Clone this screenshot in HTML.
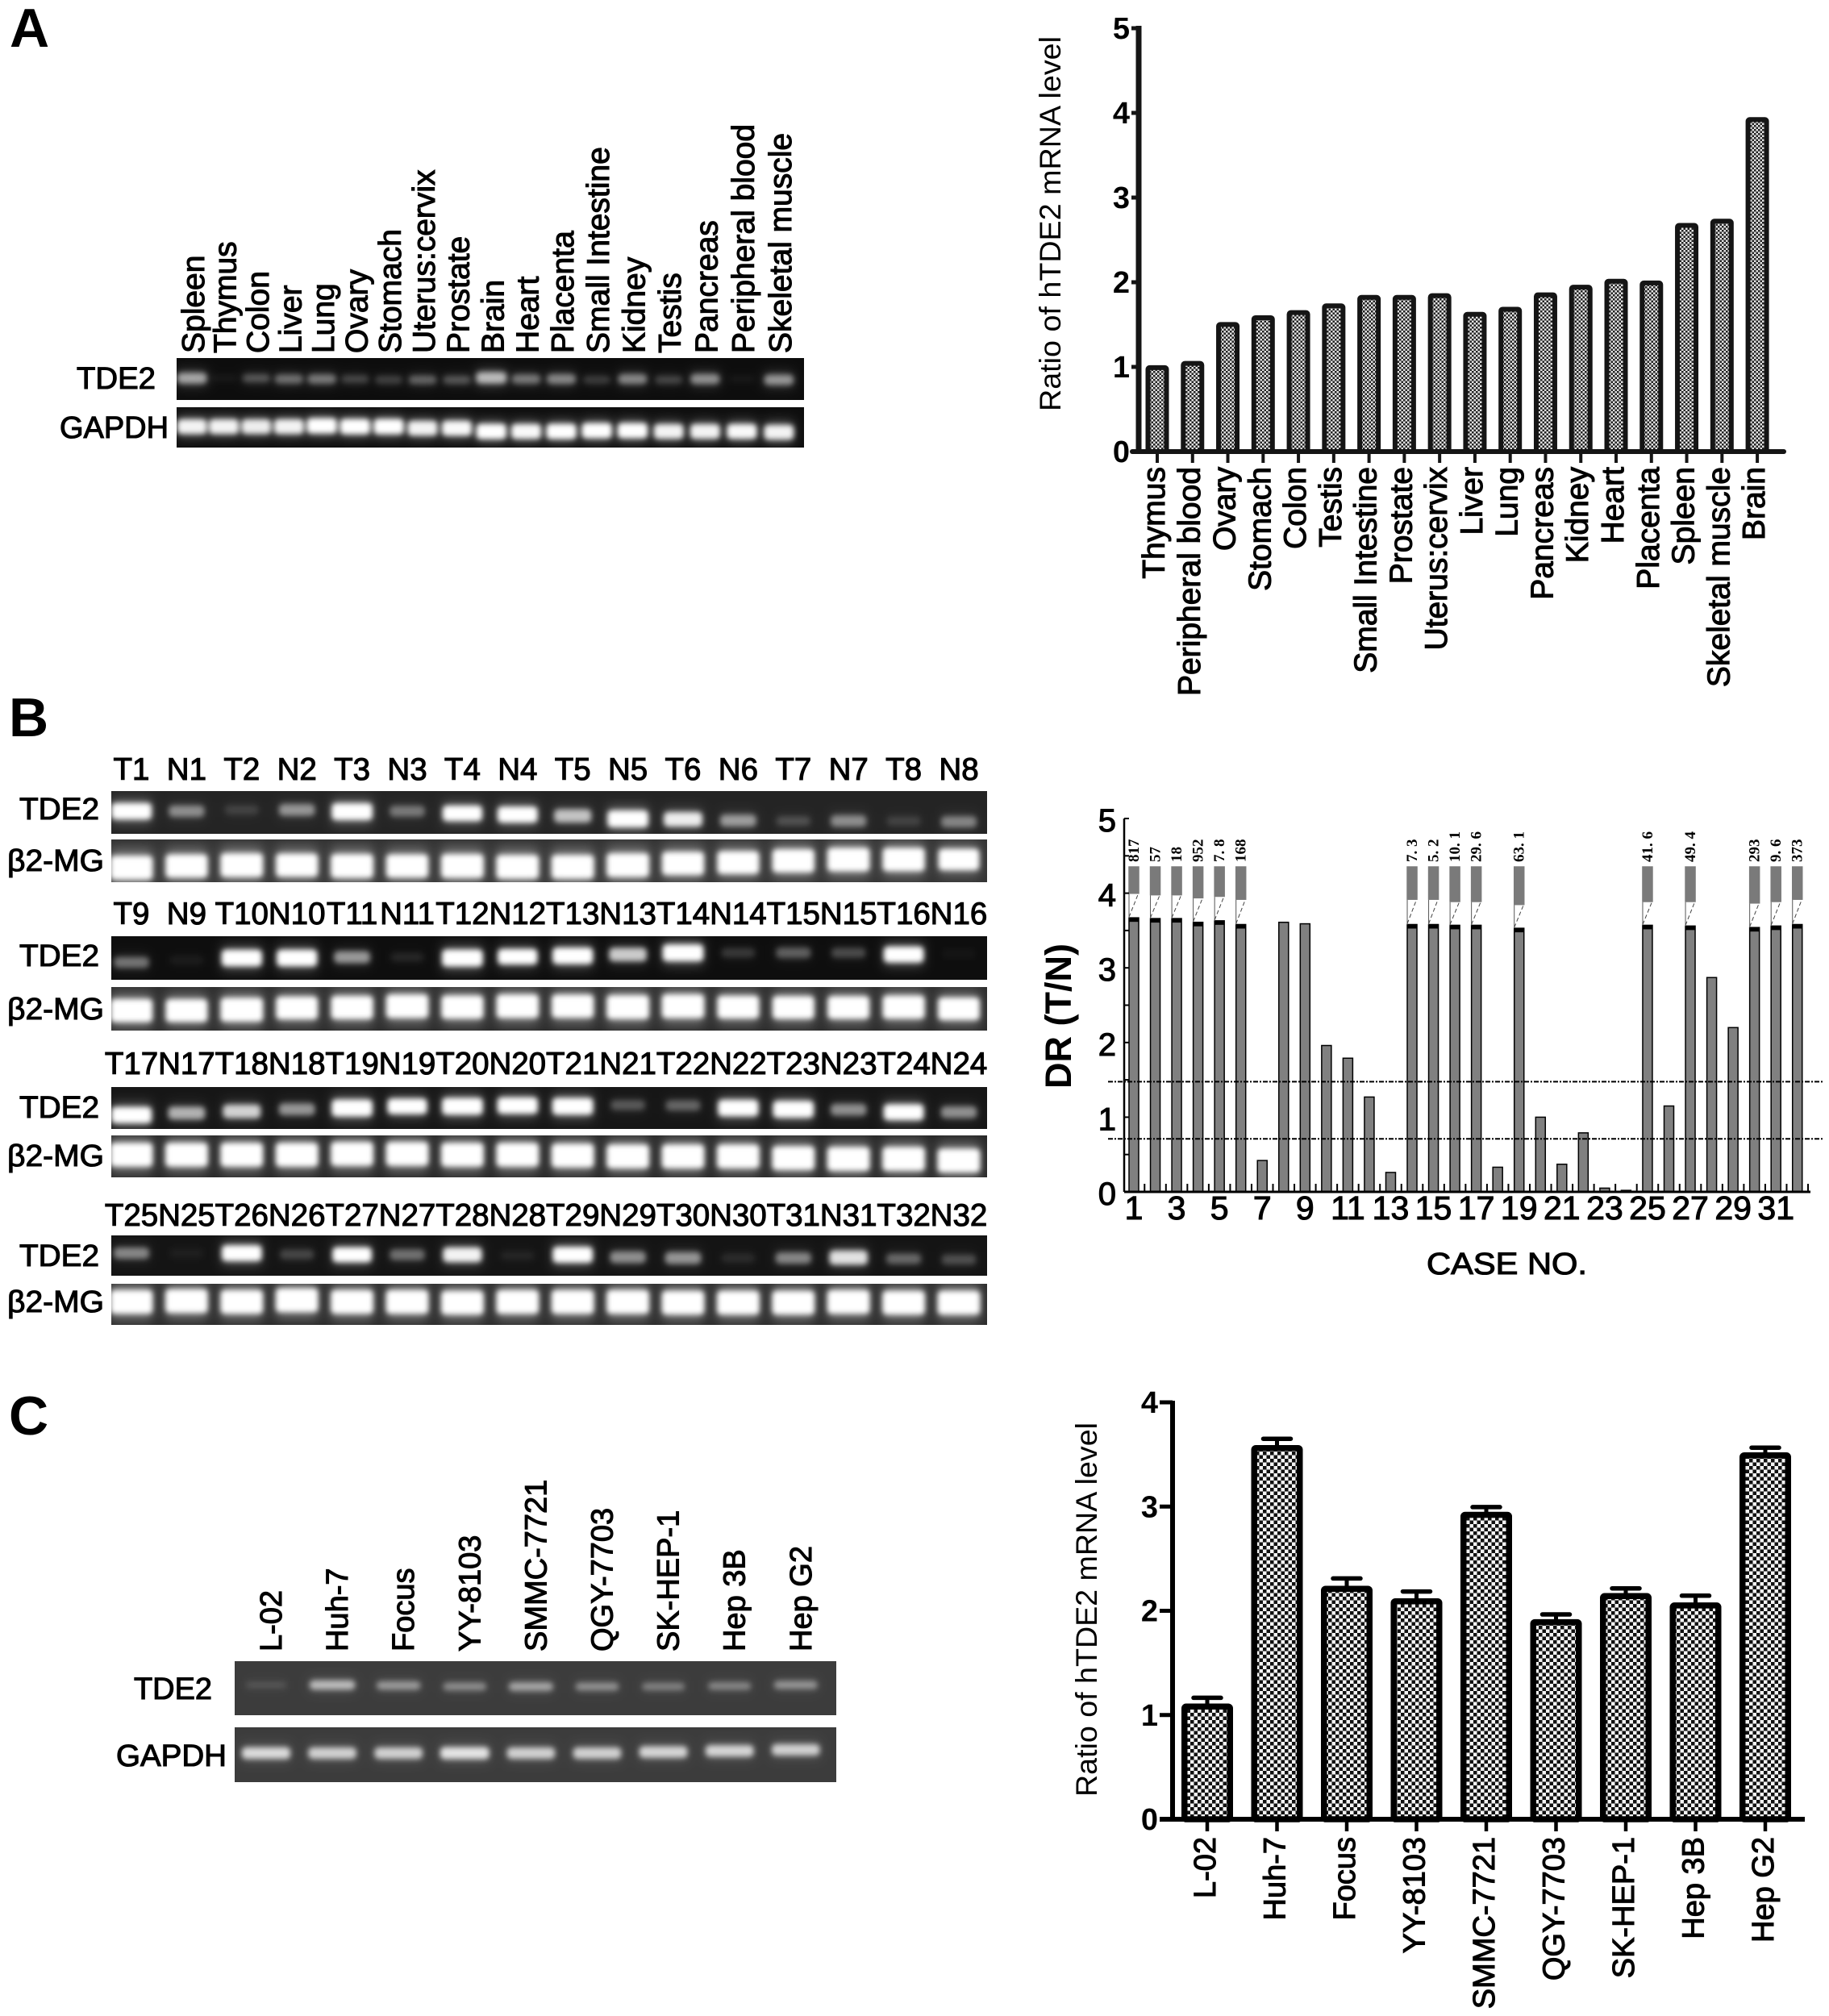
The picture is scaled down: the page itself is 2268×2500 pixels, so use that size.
<!DOCTYPE html>
<html lang="en">
<head>
<meta charset="utf-8">
<title>TDE2 expression figure</title>
<style>
html,body{margin:0;padding:0;background:#fff;}
svg{display:block;}
text{font-family:"Liberation Sans",Arial,sans-serif;fill:#000;}
.med{stroke:#000;stroke-width:1.1px;}
.bold{font-weight:bold;}
</style>
</head>
<body>
<svg id="figure" xmlns="http://www.w3.org/2000/svg" width="2268" height="2500" viewBox="0 0 2268 2500">
<defs>
<pattern id="fineCheck" width="5" height="5" patternUnits="userSpaceOnUse"><rect width="5" height="5" fill="#e2e2e2"/><rect width="2.5" height="2.5" fill="#222"/><rect x="2.5" y="2.5" width="2.5" height="2.5" fill="#222"/></pattern>
<pattern id="coarseCheck" width="9" height="9" patternUnits="userSpaceOnUse"><rect width="9" height="9" fill="#f4f4f4"/><rect width="4.5" height="4.5" fill="#111"/><rect x="4.5" y="4.5" width="4.5" height="4.5" fill="#111"/></pattern>
<filter id="blurBand" x="-40%" y="-80%" width="180%" height="260%"><feGaussianBlur stdDeviation="3.5"/></filter>
<filter id="blurHalo" x="-40%" y="-120%" width="180%" height="340%"><feGaussianBlur stdDeviation="7"/></filter>
</defs>
<text x="12" y="58" font-size="68" class="bold">A</text>
<text x="11" y="913" font-size="68" class="bold">B</text>
<text x="11" y="1779" font-size="68" class="bold">C</text>
<g id="gels"></g>
<g id="chartA"></g>
<g id="chartB"></g>
<g id="chartC"></g>
</svg>
<script>
/* ---------- chart A data ---------- */
const tissueNames = ["Thymus","Peripheral blood","Ovary","Stomach","Colon","Testis","Small Intestine","Prostate","Uterus:cervix","Liver","Lung","Pancreas","Kidney","Heart","Placenta","Spleen","Skeletal muscle","Brain"];
const tissueValues = [1.02,1.07,1.53,1.61,1.67,1.75,1.85,1.85,1.87,1.65,1.71,1.88,1.97,2.04,2.02,2.70,2.75,3.95];
const tissueTicks = [0,1,2,3,4,5];

/* ---------- chart B data ---------- */
const caseNumbers = [1,2,3,4,5,6,7,8,9,10,11,12,13,14,15,16,17,18,19,20,21,22,23,24,25,26,27,28,29,30,31,32];
const caseTickLabels = ["1","","3","","5","","7","","9","","11","","13","","15","","17","","19","","21","","23","","25","","27","","29","","31",""];
const caseValues = [3.67,3.66,3.66,3.61,3.63,3.58,0.42,3.61,3.59,1.96,1.79,1.27,0.26,3.58,3.58,3.57,3.57,0.33,3.53,1.00,0.37,0.79,0.05,0.02,3.57,1.15,3.56,2.87,2.20,3.54,3.56,3.58];
const caseBreakTop = [3.99,3.97,3.97,3.93,3.95,3.91,null,null,null,null,null,null,null,3.91,3.91,3.88,3.88,null,3.84,null,null,null,null,null,3.88,null,3.88,null,null,3.86,3.88,3.91];
const casePrinted = ["817","57","18","952","7. 8","168","","","","","","","","7. 3","5. 2","10. 1","29. 6","","63. 1","","","","","","41. 6","","49. 4","","","293","9. 6","373"];
const caseYTicks = [0,1,2,3,4,5];
const caseThresholds = [1.476,0.71];

/* ---------- chart C data ---------- */
const lineNames = ["L-02","Huh-7","Focus","YY-8103","SMMC-7721","QGY-7703","SK-HEP-1","Hep 3B","Hep G2"];
const lineValues = [1.11,3.59,2.24,2.12,2.95,1.92,2.17,2.08,3.52];
const lineErrors = [0.055,0.06,0.07,0.065,0.045,0.045,0.045,0.065,0.045];
const lineTicks = [0,1,2,3,4];

/* ---------- gel data (band brightness 0-1, migration 0-1 down the lane) ---------- */
const gelATissues = ["Spleen","Thymus","Colon","Liver","Lung","Ovary","Stomach","Uterus:cervix","Prostate","Brain","Heart","Placenta","Small Intestine","Kidney","Testis","Pancreas","Peripheral blood","Skeletal muscle"];
const gelATde2 = [.62,.04,.28,.38,.42,.22,.2,.33,.28,.72,.42,.48,.18,.48,.22,.52,.04,.55];
const gelATde2Run = [.48,.48,.48,.5,.5,.5,.52,.52,.52,.47,.5,.5,.52,.5,.52,.5,.5,.52];
const gelAGapdh = [.85,.85,.82,.85,.92,.92,.92,.85,.88,.92,.88,.92,.92,.92,.85,.85,.88,.85];
const gelAGapdhRun = [.48,.48,.48,.48,.46,.48,.48,.52,.52,.6,.6,.6,.58,.58,.6,.6,.6,.62];

const gelBLabels = [
 ["T1","N1","T2","N2","T3","N3","T4","N4","T5","N5","T6","N6","T7","N7","T8","N8"],
 ["T9","N9","T10","N10","T11","N11","T12","N12","T13","N13","T14","N14","T15","N15","T16","N16"],
 ["T17","N17","T18","N18","T19","N19","T20","N20","T21","N21","T22","N22","T23","N23","T24","N24"],
 ["T25","N25","T26","N26","T27","N27","T28","N28","T29","N29","T30","N30","T31","N31","T32","N32"]
];
const gelBTde2 = [
 [.95,.35,.1,.38,1,.28,.85,.9,.55,1,.72,.4,.14,.35,.1,.32],
 [.3,.04,.95,.95,.42,.07,1,.85,.95,.6,1,.12,.24,.18,.9,.02],
 [.95,.5,.62,.4,1,.85,1,.95,1,.2,.24,.95,1,.38,.9,.38],
 [.35,.03,.9,.15,.8,.28,.75,.05,.9,.38,.4,.07,.35,.68,.25,.18]
];
const gelBTde2Run = [
 [.47,.47,.44,.44,.48,.47,.52,.55,.58,.65,.66,.69,.7,.7,.7,.72],
 [.6,.55,.5,.5,.48,.48,.5,.47,.45,.42,.38,.38,.38,.38,.42,.4],
 [.67,.62,.58,.53,.5,.46,.46,.44,.46,.43,.44,.5,.53,.54,.6,.6],
 [.44,.44,.44,.47,.48,.48,.48,.5,.48,.54,.56,.56,.56,.55,.58,.6]
];
const gelBRef = [
 [1,.95,1,.95,1,.95,1,1,1,1,.95,.92,.95,.98,.95,.8],
 [.95,.92,1,.92,.95,.98,.95,.98,.95,1,1,.92,.92,.92,.95,.9],
 [1,1,1,1,1,1,1,1,1,1,1,1,1,1,1,1],
 [1,1,1,1,1,1,1,1,1,1,1,1,1,1,1,1]
];
const gelBRefRun = [
 [.66,.62,.6,.6,.62,.62,.62,.64,.64,.6,.56,.54,.5,.47,.47,.47],
 [.54,.54,.52,.48,.47,.44,.46,.44,.44,.46,.44,.46,.47,.47,.46,.5],
 [.46,.46,.46,.46,.44,.44,.46,.46,.48,.5,.5,.5,.54,.56,.56,.6],
 [.44,.42,.44,.4,.44,.44,.46,.44,.44,.44,.46,.46,.46,.44,.46,.46]
];
const gelCLines = ["L-02","Huh-7","Focus","YY-8103","SMMC-7721","QGY-7703","SK-HEP-1","Hep 3B","Hep G2"];
const gelCTde2 = [.12,.62,.45,.38,.5,.4,.32,.35,.42];
const gelCTde2Run = [.44,.44,.45,.47,.47,.47,.47,.46,.44];
const gelCGapdh = [.75,.7,.7,.8,.7,.7,.72,.72,.7];
const gelCGapdhRun = [.47,.47,.47,.47,.47,.47,.45,.43,.41];

const NS = "http://www.w3.org/2000/svg";
function mk(parent, tag, attrs, txt){
  const e = document.createElementNS(NS, tag);
  for (const k in attrs) e.setAttribute(k, attrs[k]);
  if (txt !== undefined) e.textContent = txt;
  parent.appendChild(e);
  return e;
}
function slug(s){ return String(s).toLowerCase().replace(/[^a-z0-9]+/g,'-'); }

/* ========== gels ========== */
const gels = document.getElementById('gels');
function drawGel(name, x0, y0, w, h, bg, laneX, values, runs, bandW, bandH, glow, core){
  const g = mk(gels, 'g', {});
  
  
  const bgRect = mk(g, 'rect', {x:x0, y:y0, width:w, height:h, fill:bg});
  
  
  const halo = mk(g, 'g', {filter:'url(#blurHalo)'});
  const sharp = mk(g, 'g', {filter:'url(#blurBand)'});
  values.forEach((v, i) => {
    const cx = laneX(i), cy = y0 + runs[i] * h;
    const hh = bandH * (0.55 + 0.55 * v);
    const bw = bandW * (0.85 + 0.2 * v);
    mk(halo, 'rect', {x:cx - bw/2, y:cy - hh*0.8, width:bw, height:hh*1.6, fill:'#fff', opacity:glow * v});
    const b = mk(sharp, 'rect', {x:cx - bw/2, y:cy - hh/2, width:bw, height:hh, rx:5, fill:'#fff', opacity:Math.min(1, v * core)});
    
    
  });
  const cid = 'clip' + slug(name);
  const cp = mk(gels, 'clipPath', {id:cid});
  mk(cp, 'rect', {x:x0, y:y0, width:w, height:h});
  g.setAttribute('clip-path', 'url(#' + cid + ')');
}
function laneLabelUp(list, laneX, dx, bottom, size, prefix){
  list.forEach((t, i) => {
    const x = laneX(i) + dx;
    const e = mk(gels, 'text', {x:x, y:bottom, 'font-size':size, class:'med', transform:'rotate(-90 '+x+' '+bottom+')'}, t);
    
    
  });
}
function gelText(t, x, y, len, nm){
  const e = mk(gels, 'text', {x:x, y:y, 'font-size':38, class:'med', textLength:len, lengthAdjust:'spacingAndGlyphs'}, t);
  
  
}
/* panel A gel */
const laneA = i => 238 + 39.5*i + 0.195*i*i;
laneLabelUp(gelATissues, laneA, 15, 438, 39, 'gel-a-lane');
drawGel('gel-a-tde2', 219, 444, 778, 52, '#0d0d0d', laneA, gelATde2, gelATde2Run, 38, 15, .3, .9);
drawGel('gel-a-gapdh', 219, 505, 778, 50, '#0d0d0d', laneA, gelAGapdh, gelAGapdhRun, 36, 18, .3, 1.1);
gelText('TDE2', 95, 482, 98, 'gel-a-tde2-label');
gelText('GAPDH', 74, 543, 135, 'gel-a-gapdh-label');

/* panel B gels */
const laneB = i => 163 + 68.4*i;
const rowsB = [
  {lab:967,  t:[981,53],  r:[1041,53], tl:1016, rl:1080},
  {lab:1146, t:[1161,54], r:[1224,54], tl:1198, rl:1264},
  {lab:1332, t:[1348,52], r:[1408,52], tl:1386, rl:1446},
  {lab:1520, t:[1532,50], r:[1592,51], tl:1570, rl:1627}
];
const tdeBg = ['#242424','#0e0e0e','#161616','#141414'];
const refBg = ['#333333','#2c2c2c','#262626','#2a2a2a'];
rowsB.forEach((row, ri) => {
  gelBLabels[ri].forEach((t, i) => {
    const e = mk(gels, 'text', {x:laneB(i), y:row.lab, 'font-size':38.5, class:'med', 'text-anchor':'middle'}, t);
    
    
  });
  drawGel('gel-b-tde2-row-' + (ri+1), 138, row.t[0], 1086, row.t[1], tdeBg[ri], laneB, gelBTde2[ri], gelBTde2Run[ri], 48, 19, .25, 1.25);
  drawGel('gel-b-b2mg-row-' + (ri+1), 138, row.r[0], 1086, row.r[1], refBg[ri], laneB, gelBRef[ri], gelBRefRun[ri], 50, 27, .3, 1.3);
  gelText('TDE2', 24, row.tl, 99, 'gel-b-tde2-label-' + (ri+1));
  gelText('β2-MG', 9, row.rl, 120, 'gel-b-b2mg-label-' + (ri+1));
});

/* panel C gel */
const laneC = i => 330 + 82.1*i;
laneLabelUp(gelCLines, laneC, 19, 2048, 38, 'gel-c-lane');
drawGel('gel-c-tde2', 291, 2060, 746, 67, '#3c3c3c', laneC, gelCTde2, gelCTde2Run, 58, 13, .18, 1.0);
drawGel('gel-c-gapdh', 291, 2142, 746, 68, '#3c3c3c', laneC, gelCGapdh, gelCGapdhRun, 60, 15, .18, 1.05);
gelText('TDE2', 166, 2107, 97, 'gel-c-tde2-label');
gelText('GAPDH', 144, 2190, 137, 'gel-c-gapdh-label');

/* ========== chart A ========== */
(function(){
  const root = document.getElementById('chartA');
  const yA = v => 560 - v * 105;
  const xA = i => 1435 + i * 43.77;
  const outerW = 29, sw = 6;
  tissueValues.forEach((v, i) => {
    const top = yA(v);
    const bar = mk(root, 'rect', {x:xA(i)-outerW/2+sw/2, y:top+sw/2, width:outerW-sw, height:yA(0)-top-sw/2, rx:2, fill:'url(#fineCheck)', stroke:'#151515', 'stroke-width':sw});
    
    
    const tick = mk(root, 'line', {x1:xA(i), x2:xA(i), y1:yA(0), y2:yA(0)+14, stroke:'#151515', 'stroke-width':4});
    
    
    const lx = xA(i) + 9, ly = 579;
    const lab = mk(root, 'text', {x:lx, y:ly, 'font-size':39, class:'med', 'text-anchor':'end', transform:'rotate(-90 '+lx+' '+ly+')'}, tissueNames[i]);
    
    
  });
  const yAxis = mk(root, 'line', {x1:1412, x2:1412, y1:yA(5)-3, y2:yA(0)+3, stroke:'#151515', 'stroke-width':7});
  
  
  const xAxis = mk(root, 'line', {x1:1404, x2:2212, y1:yA(0), y2:yA(0), stroke:'#151515', 'stroke-width':6, 'stroke-linecap':'round'});
  
  
  tissueTicks.forEach(v => {
    const t = mk(root, 'line', {x1:1403, x2:1412, y1:yA(v), y2:yA(v), stroke:'#151515', 'stroke-width':5});
    
    
    const l = mk(root, 'text', {x:1401, y:yA(v)+13, 'font-size':38, class:'bold', 'text-anchor':'end'}, String(v));
    
    
  });
  const tx = 1315, ty = 510;
  const title = mk(root, 'text', {x:tx, y:ty, 'font-size':37.5, textLength:465, lengthAdjust:'spacingAndGlyphs', transform:'rotate(-90 '+tx+' '+ty+')'}, 'Ratio of hTDE2 mRNA level');
  
  
})();

/* ========== chart B ========== */
(function(){
  const root = document.getElementById('chartB');
  const yB = v => 1478 - v * 92.6;
  const xB = i => 1406 + i * 26.54;
  const barW = 12, upperTop = 4.36;
  caseValues.forEach((v, i) => {
    const cx = xB(i), top = yB(v);
    const bar = mk(root, 'rect', {x:cx-barW/2, y:top, width:barW, height:yB(0)-top, fill:'#808080', stroke:'#000', 'stroke-width':1.5});
    
    
    const tick = mk(root, 'line', {x1:cx+13.27, x2:cx+13.27, y1:yB(0), y2:yB(0)-10, stroke:'#000', 'stroke-width':2});
    
    
    if (caseBreakTop[i] !== null) {
      const cap = mk(root, 'rect', {x:cx-barW/2, y:top, width:barW, height:5, fill:'#000'});
      
      
      const upY = yB(upperTop), upB = yB(caseBreakTop[i]);
      const upper = mk(root, 'rect', {x:cx-barW/2-0.75, y:upY, width:barW+1.5, height:upB-upY, fill:'#7a7a7a'});
      
      
      const d1 = mk(root, 'line', {x1:cx-barW/2, y1:top-1, x2:cx+barW/2-1, y2:upB+1, stroke:'#444', 'stroke-width':1, 'stroke-dasharray':'5 3'});
      
      
      const d2 = mk(root, 'line', {x1:cx-barW/2, y1:upB, x2:cx-barW/2, y2:top, stroke:'#555', 'stroke-width':1});
      
      
    }
    if (casePrinted[i]) {
      const lx = cx + 6, ly = 1069;
      const p = mk(root, 'text', {x:lx, y:ly, 'font-size':19, 'font-weight':'bold', style:'font-family:"Liberation Serif",serif', transform:'rotate(-90 '+lx+' '+ly+')'}, casePrinted[i]);
      
      
    }
    if (caseTickLabels[i]) {
      const l = mk(root, 'text', {x:cx, y:1512, 'font-size':41, class:'med', 'text-anchor':'middle'}, caseTickLabels[i]);
      
      
    }
  });
  caseThresholds.forEach(v => {
    const l = mk(root, 'line', {x1:1374, x2:2262, y1:yB(v), y2:yB(v), stroke:'#000', 'stroke-width':2, 'stroke-dasharray':'6 2 2 2'});
    
    
  });
  const yAxis = mk(root, 'line', {x1:1394, x2:1394, y1:yB(5), y2:yB(0), stroke:'#000', 'stroke-width':2.5});
  
  
  const xAxis = mk(root, 'line', {x1:1394, x2:2245, y1:yB(0), y2:yB(0), stroke:'#000', 'stroke-width':3});
  
  
  for (let v = 0; v <= 5; v += 0.5) {
    const t = mk(root, 'line', {x1:1394, x2:1400, y1:yB(v), y2:yB(v), stroke:'#000', 'stroke-width':2});
    
    
  }
  caseYTicks.forEach(v => {
    const l = mk(root, 'text', {x:1384, y:yB(v)+16, 'font-size':40, class:'med', 'text-anchor':'end'}, String(v));
    
    
  });
  const tx = 1328, ty = 1350;
  const title = mk(root, 'text', {x:tx, y:ty, 'font-size':45, class:'bold', textLength:180, lengthAdjust:'spacingAndGlyphs', transform:'rotate(-90 '+tx+' '+ty+')'}, 'DR (T/N)');
  
  
  const xt = mk(root, 'text', {x:1769, y:1580, 'font-size':38, class:'med', textLength:199, lengthAdjust:'spacingAndGlyphs'}, 'CASE NO.');
  
  
})();

/* ========== chart C ========== */
(function(){
  const root = document.getElementById('chartC');
  const yC = v => 2256 - v * 129.25;
  const xC = i => 1497 + i * 86.5;
  const outerW = 64, sw = 7.5;
  lineValues.forEach((v, i) => {
    const cx = xC(i), top = yC(v), errTop = yC(v + lineErrors[i]);
    const stem = mk(root, 'line', {x1:cx, x2:cx, y1:errTop, y2:top+2, stroke:'#000', 'stroke-width':5});
    
    
    const cap = mk(root, 'line', {x1:cx-17, x2:cx+17, y1:errTop, y2:errTop, stroke:'#000', 'stroke-width':5.5, 'stroke-linecap':'round'});
    
    
    const bar = mk(root, 'rect', {x:cx-outerW/2+sw/2, y:top+sw/2, width:outerW-sw, height:yC(0)-top-sw/2, rx:2, fill:'url(#coarseCheck)', stroke:'#000', 'stroke-width':sw});
    
    
    const tick = mk(root, 'line', {x1:cx, x2:cx, y1:yC(0), y2:yC(0)+15, stroke:'#000', 'stroke-width':4.5});
    
    
    const lx = cx + 10, ly = 2278;
    const lab = mk(root, 'text', {x:lx, y:ly, 'font-size':38, class:'med', 'text-anchor':'end', transform:'rotate(-90 '+lx+' '+ly+')'}, lineNames[i]);
    
    
  });
  const yAxis = mk(root, 'line', {x1:1454, x2:1454, y1:yC(4)-2, y2:yC(0)+2, stroke:'#000', 'stroke-width':6});
  
  
  const xAxis = mk(root, 'line', {x1:1438, x2:2238, y1:yC(0), y2:yC(0), stroke:'#000', 'stroke-width':6});
  
  
  lineTicks.forEach(v => {
    const t = mk(root, 'line', {x1:1438, x2:1454, y1:yC(v), y2:yC(v), stroke:'#000', 'stroke-width':5});
    
    
    const l = mk(root, 'text', {x:1436, y:yC(v)+13, 'font-size':38, class:'bold', 'text-anchor':'end'}, String(v));
    
    
  });
  const tx = 1360, ty = 2228;
  const title = mk(root, 'text', {x:tx, y:ty, 'font-size':37.5, textLength:464, lengthAdjust:'spacingAndGlyphs', transform:'rotate(-90 '+tx+' '+ty+')'}, 'Ratio of hTDE2 mRNA level');
  
  
})();
</script>
</body>
</html>
